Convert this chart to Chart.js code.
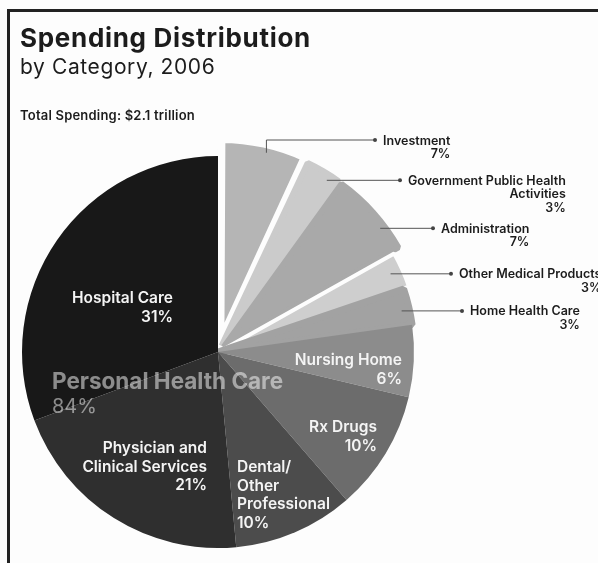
<!DOCTYPE html>
<html>
<head>
<meta charset="utf-8">
<script src="https://cdn.jsdelivr.net/npm/chart.js@4.4.1/dist/chart.umd.min.js"></script>
<style>
  html, body { margin: 0; padding: 0; background: #fdfdfd; overflow: hidden; }
  #page { position: relative; width: 598px; height: 563px; overflow: hidden;
          font-family: Inter, "Liberation Sans", Arial, sans-serif; color: #1c1c1c; }
  #frame { position: absolute; left: 7px; top: 9px; right: -10px; bottom: -10px;
           border-top: 3px solid #222; border-left: 3px solid #222; }
  #pie { position: absolute; left: 0; top: 0; }
  .txt { position: absolute; white-space: nowrap; }
</style>
</head>
<body>
<div id="page">
  <div id="frame"></div>
  <canvas id="pie" width="598" height="563"></canvas>
</div>
<script>
// chart data
const categories = ['Investment', 'Government Public Health Activities', 'Administration',
  'Other Medical Products', 'Home Health Care', 'Nursing Home', 'Rx Drugs',
  'Dental/Other Professional', 'Physician and Clinical Services', 'Hospital Care'];
const shares = [7, 3, 7, 3, 3, 6, 10, 10, 21, 31];
const labelLines = [['Investment'], ['Government Public Health', 'Activities'], ['Administration'],
  ['Other Medical Products'], ['Home Health Care'], ['Nursing Home'], ['Rx Drugs'],
  ['Dental/', 'Other', 'Professional'], ['Physician and', 'Clinical Services'], ['Hospital Care']];
const groupLabel = 'Personal Health Care';
const groupShare = 84;
const chartTitle = 'Spending Distribution';
const chartSubtitle = 'by Category, 2006';
const totalNote = 'Total Spending: $2.1 trillion';

// looks
const bg = '#fdfdfd';
const sliceColors = ['#b5b5b5', '#cbcbcb', '#a9a9a9', '#cecece', '#a2a2a2',
  '#8c8c8c', '#6c6c6c', '#4c4c4c', '#2f2f2f', '#181818'];
// chart.js v4 moves a slice by offset / 4
const sliceOffsets = [44, 29, 32, 13, 0, 0, 0, 0, 0, 0];
// white edges make the gaps; a stroke in the slice's own colour closes the gap
// on the sides where the reference has none
const sliceBorders = [8, 6, 6, 4, 7, 0, 0, 0, 0, 0];
const sliceBorderColors = [bg, sliceColors[1], sliceColors[2], bg, sliceColors[4], bg, bg, bg, bg, bg];

// label placement, relative to the pie centre
const insideLabels = [
  { i: 5, dx: 184, dy: 13, align: 'right' },
  { i: 6, dx: 159, dy: 80, align: 'right' },
  { i: 7, dx: 19, dy: 120, align: 'left' },
  { i: 8, dx: -11, dy: 101, align: 'right' },
  { i: 9, dx: -45, dy: -49, align: 'right' }
];
const callouts = [
  { i: 0, at: 0.55, r: 0.99, dotDx: 157, rowDy: -212 },
  { i: 1, at: 0.70, r: 1.0, dotDx: 182 },
  { i: 2, at: 0.69, r: 1.0, dotDx: 215 },
  { i: 3, at: 0.47, r: 0.95, dotDx: 233 },
  { i: 4, at: 0.57, r: 0.96, dotDx: 244 }
];

const page = document.getElementById('page');

// put a block of text so that its first baseline lands on y
function placeText(lines, x, y, o) {
  const div = document.createElement('div');
  div.className = 'txt';
  div.style.font = `${o.weight || 400} ${o.size}px Inter, "Liberation Sans", Arial, sans-serif`;
  div.style.lineHeight = (o.lh || o.size) + 'px';
  div.style.textAlign = o.align || 'left';
  if (o.color) div.style.color = o.color;
  if (o.spacing) div.style.letterSpacing = o.spacing + 'px';
  const mark = document.createElement('span');
  mark.style.cssText = 'display:inline-block;width:0;height:0;vertical-align:baseline';
  lines.forEach((t, k) => {
    const line = document.createElement('div');
    if (k === 0) line.appendChild(mark);
    line.appendChild(document.createTextNode(t));
    div.appendChild(line);
  });
  page.appendChild(div);
  if (o.align === 'right' && !o.block) div.style.right = (598 - x) + 'px';
  else div.style.left = x + 'px';
  div.style.top = '0px';
  const base = mark.getBoundingClientRect().top - page.getBoundingClientRect().top;
  div.style.top = (y - base) + 'px';
}

function calloutPath(chart, c) {
  const arc = chart.getDatasetMeta(0).data[c.i];
  const off = (arc.options.offset || 0) / 4;
  const half = (arc.startAngle + arc.endAngle) / 2;
  const ox = arc.x + Math.cos(half) * off;
  const oy = arc.y + Math.sin(half) * off;
  const a = arc.startAngle + (arc.endAngle - arc.startAngle) * c.at;
  const r = arc.outerRadius * c.r;
  const ax = ox + Math.cos(a) * r;
  const ay = oy + Math.sin(a) * r;
  const rowY = c.rowDy !== undefined ? arc.y + c.rowDy : ay;
  return { ax, ay, rowY, dotX: arc.x + c.dotDx };
}

const leaderLines = {
  id: 'leaderLines',
  afterDatasetsDraw(chart) {
    const ctx = chart.ctx;
    ctx.save();
    ctx.strokeStyle = '#555';
    ctx.fillStyle = '#444';
    ctx.lineWidth = 1;
    callouts.forEach((c) => {
      const p = calloutPath(chart, c);
      ctx.beginPath();
      ctx.moveTo(p.ax, p.ay);
      if (Math.abs(p.rowY - p.ay) > 0.5) ctx.lineTo(p.ax, p.rowY);
      ctx.lineTo(p.dotX, p.rowY);
      ctx.stroke();
      ctx.beginPath();
      ctx.arc(p.dotX, p.rowY, 2, 0, Math.PI * 2);
      ctx.fill();
    });
    ctx.restore();
  }
};

const chart = new Chart(document.getElementById('pie'), {
  type: 'pie',
  data: {
    labels: categories,
    datasets: [{
      data: shares,
      backgroundColor: sliceColors,
      borderColor: sliceBorderColors,
      borderWidth: sliceBorders,
      offset: sliceOffsets
    }]
  },
  options: {
    responsive: false,
    animation: false,
    devicePixelRatio: 1,
    radius: 196,
    layout: { padding: { left: 20, right: 182, top: 156, bottom: 15 } },
    plugins: { legend: { display: false }, tooltip: { enabled: false } }
  },
  plugins: [leaderLines]
});

// headings
placeText([chartTitle], 20, 47, { size: 26, weight: 700, spacing: 0.7 });
placeText([chartSubtitle], 20, 74, { size: 21, spacing: 0.6 });
placeText([totalNote], 20, 120, { size: 13, weight: 600, spacing: 0.2 });

// labels inside the slices
const centre = chart.getDatasetMeta(0).data[0];
const cx = centre.x, cy = centre.y;
insideLabels.forEach((l) => {
  const lines = labelLines[l.i].concat([shares[l.i] + '%']);
  placeText(lines, cx + l.dx, cy + l.dy, { size: 15.5, weight: 600, lh: 18.5, align: l.align, color: '#f4f4f4' });
});

// group label
placeText([groupLabel], cx - 166, cy + 37, { size: 22.5, weight: 700, color: 'rgba(255,255,255,0.5)' });
placeText([groupShare + '%'], cx - 166, cy + 61, { size: 20, color: 'rgba(255,255,255,0.5)' });

// callout labels
callouts.forEach((c) => {
  const p = calloutPath(chart, c);
  const lines = labelLines[c.i].concat([shares[c.i] + '%']);
  placeText(lines, p.dotX + 8, p.rowY + 4.5, { size: 12.5, weight: 600, lh: 13.5, align: 'right', block: true });
});
</script>
</body>
</html>
